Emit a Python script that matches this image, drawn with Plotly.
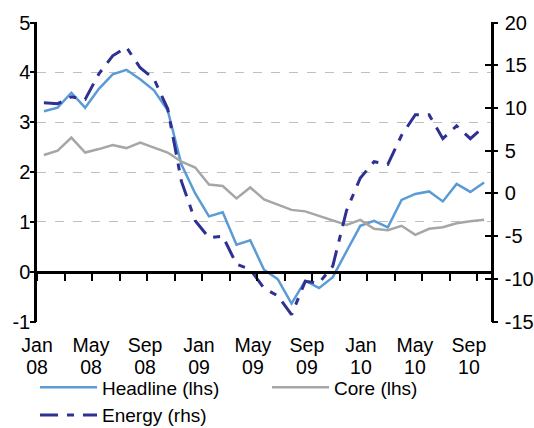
import plotly.graph_objects as go

# Monthly data, Jan 2008 - Sep 2010
months = list(range(33))
headline = [3.22, 3.29, 3.59, 3.29, 3.67, 3.96, 4.05, 3.86, 3.64, 3.24, 2.15, 1.57,
            1.11, 1.19, 0.54, 0.63, 0.04, -0.15, -0.64, -0.18, -0.33, -0.11, 0.41, 0.92,
            1.02, 0.89, 1.44, 1.56, 1.61, 1.41, 1.76, 1.60, 1.79]
core = [2.34, 2.43, 2.69, 2.39, 2.46, 2.54, 2.48, 2.59, 2.49, 2.39, 2.21, 2.09,
        1.75, 1.72, 1.47, 1.69, 1.45, 1.34, 1.24, 1.21, 1.12, 1.03, 0.94, 1.04,
        0.86, 0.83, 0.92, 0.74, 0.86, 0.89, 0.97, 1.01, 1.04]
energy = [10.6, 10.5, 11.3, 11.0, 14.0, 16.1, 17.1, 14.7, 13.4, 9.9, 1.4, -3.2,
          -5.2, -5.0, -8.3, -8.9, -11.1, -12.0, -14.2, -10.3, -10.5, -8.5, -2.0, 1.8,
          3.7, 3.4, 6.8, 9.2, 9.2, 6.4, 7.9, 6.4, 7.8]

month_labels = ["Jan", "May", "Sep", "Jan", "May", "Sep", "Jan", "May", "Sep"]
year_labels = ["08", "08", "08", "09", "09", "09", "10", "10", "10"]
label_pos = [-0.499 + 3.924 * k for k in range(len(month_labels))]

lhs_ticks = [-1, 0, 1, 2, 3, 4, 5]
lhs_text = ["-1", "0", "1", "2", "3", "4", "5"]
rhs_ticks = [-15, -10, -5, 0, 5, 10, 15, 20]
rhs_text = ["-15", "-10", "-5", "0", "5", "10", "15", "20"]

LHS_RANGE = [-1.01, 5.01]
RHS_RANGE = [-15 + (LHS_RANGE[0] + 1) * 35 / 6, -15 + (LHS_RANGE[1] + 1) * 35 / 6]
X_RANGE = [-0.5, 32.5]

FONT = "Liberation Sans, Arial, sans-serif"
blank = [None] * len(months)

fig = go.Figure()
fig.add_trace(go.Scatter(x=months, y=headline, name="Headline (lhs)", mode="lines",
                         line=dict(color="#5B9BD5", width=2.5)))
fig.add_trace(go.Scatter(x=months, y=core, name="Core (lhs)", mode="lines",
                         line=dict(color="#A6A6A6", width=2.5)))
fig.add_trace(go.Scatter(x=months, y=energy, name="Energy (rhs)", mode="lines", yaxis="y2",
                         line=dict(color="#2E3192", width=3,
                                   dash="18px,9px,7px,9px")))
# empty helper traces so that the auxiliary axes get drawn
for xa, ya in (("x2", "y"), ("x3", "y"), ("x", "y3"), ("x", "y4")):
    fig.add_trace(go.Scatter(x=months, y=blank, xaxis=xa, yaxis=ya, mode="lines",
                             showlegend=False, hoverinfo="skip"))

fig.update_layout(
    width=534, height=428,
    margin=dict(l=37, r=43, t=22, b=106, autoexpand=False),
    paper_bgcolor="white", plot_bgcolor="white",
    font=dict(family=FONT, size=20, color="black"),
    xaxis=dict(range=X_RANGE, tickvals=label_pos, ticktext=month_labels,
               ticks="", showgrid=False, zeroline=False, showline=False,
               ticklabelstandoff=9, tickfont=dict(size=19.5), automargin=False),
    xaxis3=dict(range=X_RANGE, overlaying="x", anchor="y", side="bottom",
                tickvals=label_pos, ticktext=year_labels, ticks="",
                showgrid=False, zeroline=False, showline=False,
                ticklabelstandoff=31, tickfont=dict(size=19.5), automargin=False),
    xaxis2=dict(range=X_RANGE, overlaying="x", anchor="free", position=1/6,
                tick0=-0.5, dtick=2, ticks="outside", ticklen=7, tickwidth=2,
                tickcolor="black", showticklabels=False, showgrid=False,
                zeroline=False, showline=True, linecolor="black", linewidth=2.5,
                automargin=False),
    yaxis=dict(range=LHS_RANGE, tickvals=lhs_ticks, ticktext=lhs_text,
               showgrid=True, gridcolor="#BFBFBF",
               griddash="dash", gridwidth=1, zeroline=False,
               showline=True, linecolor="black", linewidth=2.5,
               ticks="", ticklabelstandoff=0, automargin=False),
    yaxis4=dict(range=LHS_RANGE, tickvals=lhs_ticks, overlaying="y", side="left",
                anchor="x", showgrid=False, zeroline=False, showline=False,
                ticks="outside", ticklen=6, tickwidth=2, tickcolor="black",
                showticklabels=False, automargin=False),
    yaxis2=dict(range=RHS_RANGE, tickvals=rhs_ticks, ticktext=rhs_text,
                overlaying="y", side="right",
                showgrid=False, zeroline=False, showline=True, linecolor="black",
                linewidth=2.5, ticks="inside", ticklen=6, tickwidth=2,
                tickcolor="black", ticklabelstandoff=7, automargin=False),
    yaxis3=dict(range=RHS_RANGE, tickvals=rhs_ticks, overlaying="y", side="right",
                anchor="x", showgrid=False, zeroline=False, showline=False,
                ticks="outside", ticklen=6, tickwidth=2, tickcolor="black",
                showticklabels=False, automargin=False),
    legend=dict(orientation="h", x=-0.0044, xanchor="left", y=-0.155, yanchor="top",
                entrywidth=160, entrywidthmode="pixels", itemwidth=57,
                font=dict(family=FONT, size=19), bgcolor="rgba(0,0,0,0)",
                tracegroupgap=0),
)

fig.write_html("out.html", config={"displayModeBar": False},
               post_script="document.body.style.margin='0px';")
